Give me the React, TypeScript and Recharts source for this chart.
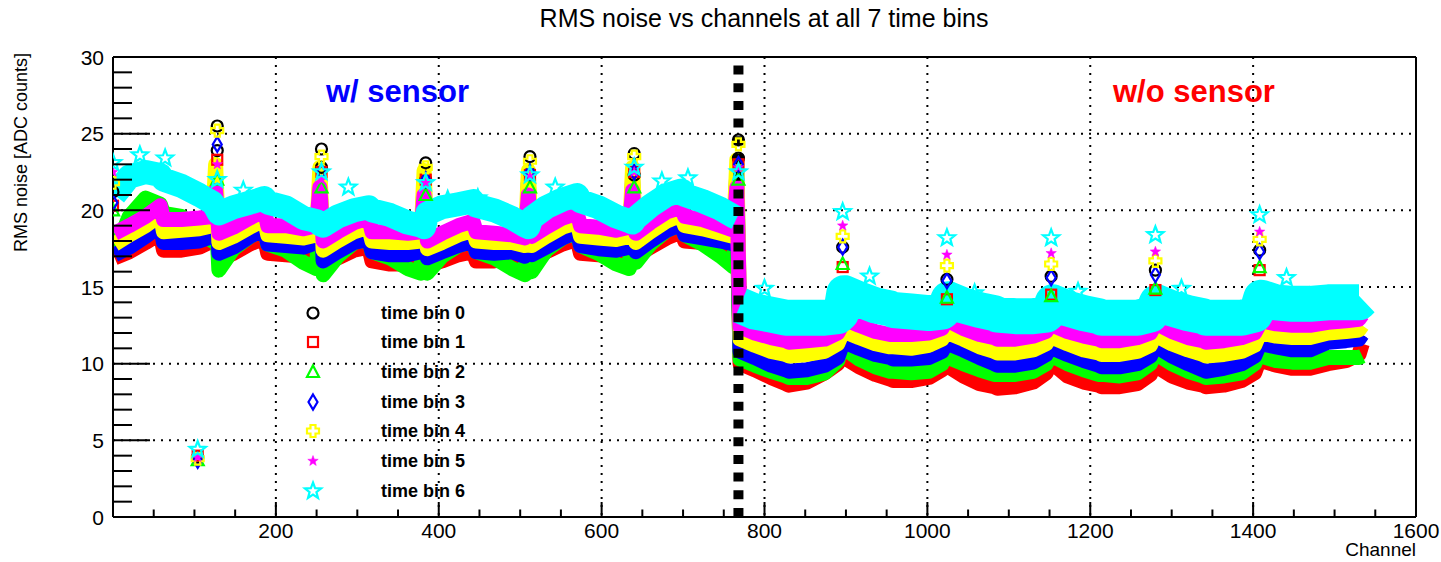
import {CartesianGrid, ComposedChart, Line, ReferenceLine, Scatter, XAxis, YAxis} from 'recharts';

const FONT = '"Liberation Sans", Arial, Helvetica, sans-serif';

const binLabels = ['time bin 0', 'time bin 1', 'time bin 2', 'time bin 3', 'time bin 4', 'time bin 5', 'time bin 6'];
const binColors = ['#000000', '#ff0000', '#00ff00', '#0000ff', '#ffff00', '#ff00ff', '#00ffff'];
const binMarkers = ['circle', 'square', 'triangle', 'diamond', 'cross', 'star', 'openStar'];

// 12 chips of 128 channels, sampled at a few channels per chip
const chipStarts = [0, 128, 256, 384, 512, 640, 768, 896, 1024, 1152, 1280, 1408];
const sampleOffsets = [2, 20, 40, 58, 62, 84, 106, 122, 126];

const bin0 = [
    17.1, 17.6, 18.3, 19.0, 17.9, 17.9, 18.0, 18.3, 22.5,
    17.2, 17.6, 18.3, 18.8, 17.8, 17.7, 17.6, 17.9, 22.5,
    16.7, 17.3, 17.9, 18.1, 17.3, 17.1, 17.1, 17.3, 22.0,
    16.9, 17.3, 17.7, 18.0, 17.3, 17.2, 17.3, 17.0, 22.0,
    17.1, 17.6, 18.2, 18.6, 17.7, 17.5, 17.4, 17.6, 22.3,
    17.3, 18.0, 18.7, 19.1, 18.4, 18.2, 18.0, 17.8, 23.0,
    10.8, 10.4, 9.9, 9.6, 9.5, 9.6, 9.9, 10.4, 11.0,
    11.4, 11.0, 10.6, 10.4, 10.3, 10.3, 10.4, 10.8, 11.2,
    11.3, 10.9, 10.4, 10.0, 9.9, 9.9, 10.1, 10.6, 11.1,
    11.0, 10.6, 10.2, 9.9, 9.8, 9.8, 10.0, 10.5, 11.0,
    11.1, 10.5, 10.0, 9.6, 9.5, 9.7, 10.0, 10.5, 11.0,
    11.3, 11.1, 10.9, 10.9, 10.9, 11.4, 11.5, 11.6, 11.9,
];
const bin1 = [
    16.9, 17.3, 17.9, 18.5, 17.4, 17.4, 17.6, 18.0, 21.8,
    16.8, 17.2, 17.8, 18.2, 17.2, 17.1, 17.0, 17.3, 21.5,
    16.4, 16.9, 17.4, 17.6, 16.7, 16.5, 16.5, 16.8, 21.3,
    16.4, 16.7, 17.1, 17.3, 16.7, 16.7, 16.9, 16.7, 21.5,
    16.8, 17.3, 17.8, 18.1, 17.2, 17.1, 17.0, 17.2, 21.5,
    17.0, 17.6, 18.2, 18.6, 18.0, 17.9, 17.8, 17.5, 21.8,
    10.0, 9.6, 9.1, 8.7, 8.6, 8.8, 9.4, 10.0, 10.5,
    10.4, 9.8, 9.3, 9.0, 8.9, 8.9, 9.1, 9.6, 10.2,
    9.8, 9.2, 8.7, 8.5, 8.4, 8.5, 8.8, 9.4, 10.0,
    10.0, 9.2, 8.8, 8.6, 8.5, 8.5, 8.7, 9.3, 10.0,
    9.8, 9.2, 8.8, 8.6, 8.5, 8.6, 8.9, 9.4, 10.0,
    10.2, 9.9, 9.7, 9.7, 9.7, 10.0, 10.2, 10.6, 11.3,
];
const bin2 = [
    17.3, 19.6, 20.8, 20.4, 19.8, 19.6, 18.8, 18.0, 20.5,
    16.1, 17.5, 18.3, 18.8, 17.8, 17.4, 16.6, 16.2, 20.5,
    15.8, 17.0, 17.9, 18.1, 17.3, 16.9, 16.2, 15.9, 20.5,
    15.9, 17.0, 17.7, 18.0, 17.3, 16.9, 16.2, 15.8, 20.5,
    16.0, 17.4, 18.2, 18.6, 17.7, 17.2, 16.5, 16.2, 20.5,
    16.6, 17.8, 18.7, 19.1, 18.4, 17.8, 17.0, 16.3, 20.5,
    10.3, 9.9, 9.5, 9.2, 9.1, 9.1, 9.4, 10.2, 11.0,
    11.0, 10.3, 9.8, 9.5, 9.5, 9.4, 9.5, 10.0, 10.6,
    10.4, 10.0, 9.6, 9.3, 9.3, 9.3, 9.5, 10.0, 10.6,
    10.5, 10.0, 9.6, 9.3, 9.3, 9.2, 9.4, 10.0, 10.7,
    10.6, 10.0, 9.5, 9.2, 9.1, 9.2, 9.4, 10.0, 10.6,
    10.5, 10.2, 10.1, 10.1, 10.1, 10.4, 10.4, 10.4, 10.5,
];
const bin3 = [
    17.1, 17.6, 18.3, 19.0, 17.9, 17.9, 18.0, 18.3, 21.8,
    17.2, 17.6, 18.3, 18.8, 17.8, 17.7, 17.6, 17.9, 22.0,
    16.7, 17.3, 17.9, 18.1, 17.3, 17.1, 17.1, 17.3, 21.8,
    16.9, 17.3, 17.7, 18.0, 17.3, 17.2, 17.3, 17.0, 21.8,
    17.1, 17.6, 18.2, 18.6, 17.7, 17.5, 17.4, 17.6, 22.0,
    17.3, 18.0, 18.7, 19.1, 18.4, 18.2, 18.0, 17.8, 22.5,
    10.8, 10.4, 9.9, 9.6, 9.5, 9.6, 9.9, 10.4, 11.0,
    11.4, 11.0, 10.6, 10.4, 10.3, 10.3, 10.4, 10.8, 11.2,
    11.3, 10.9, 10.4, 10.0, 9.9, 9.9, 10.1, 10.6, 11.1,
    11.0, 10.6, 10.2, 9.9, 9.8, 9.8, 10.0, 10.5, 11.0,
    11.1, 10.5, 10.0, 9.6, 9.5, 9.7, 10.0, 10.5, 11.0,
    11.3, 11.1, 10.9, 10.9, 10.9, 11.4, 11.5, 11.6, 11.9,
];
const bin4 = [
    17.8, 18.4, 19.0, 19.7, 18.6, 18.7, 18.8, 19.0, 23.0,
    17.9, 18.3, 18.9, 19.4, 18.4, 18.3, 18.2, 18.4, 22.8,
    17.4, 18.0, 18.6, 18.9, 18.0, 17.9, 17.9, 18.0, 22.6,
    17.5, 17.9, 18.4, 18.7, 18.0, 17.9, 17.9, 17.7, 22.6,
    17.7, 18.3, 18.9, 19.2, 18.3, 18.2, 18.1, 18.3, 22.8,
    17.9, 18.6, 19.3, 19.7, 19.0, 18.8, 18.5, 18.3, 23.3,
    11.6, 11.2, 10.8, 10.6, 10.5, 10.6, 10.8, 11.3, 11.8,
    12.1, 11.7, 11.3, 11.1, 11.1, 11.0, 11.2, 11.6, 12.0,
    12.0, 11.6, 11.1, 10.8, 10.7, 10.7, 10.9, 11.3, 11.8,
    11.7, 11.3, 10.9, 10.7, 10.6, 10.6, 10.8, 11.2, 11.7,
    11.8, 11.3, 10.9, 10.6, 10.5, 10.6, 10.8, 11.2, 11.7,
    12.0, 11.8, 11.7, 11.7, 11.7, 12.0, 12.1, 12.2, 12.5,
];
const bin5 = [
    18.5, 19.0, 19.6, 20.3, 19.4, 19.4, 19.5, 19.6, 21.3,
    18.5, 18.9, 19.5, 20.0, 19.0, 19.0, 18.8, 19.0, 21.5,
    18.0, 18.6, 19.2, 19.5, 18.6, 18.6, 18.5, 18.6, 21.0,
    18.0, 18.5, 19.0, 19.3, 18.6, 18.5, 18.4, 18.2, 21.0,
    18.3, 18.9, 19.5, 19.8, 19.0, 18.9, 18.7, 18.9, 21.3,
    18.5, 19.2, 19.9, 20.2, 19.6, 19.4, 19.0, 18.7, 21.5,
    12.4, 12.0, 11.7, 11.5, 11.4, 11.5, 11.6, 12.0, 12.4,
    12.9, 12.5, 12.1, 11.9, 11.9, 11.9, 12.0, 12.3, 12.7,
    12.8, 12.3, 11.9, 11.7, 11.6, 11.6, 11.8, 12.1, 12.5,
    12.5, 12.1, 11.8, 11.6, 11.5, 11.5, 11.7, 12.0, 12.4,
    12.6, 12.1, 11.7, 11.5, 11.4, 11.5, 11.7, 12.0, 12.4,
    12.8, 12.6, 12.5, 12.5, 12.5, 12.7, 12.8, 12.9, 13.2,
];
const bin6 = [
    21.0, 22.2, 22.5, 22.3, 22.0, 21.6, 21.0, 20.5, 20.2,
    19.8, 20.2, 20.5, 20.8, 20.5, 20.2, 19.5, 19.3, 19.1,
    19.0, 19.6, 20.0, 20.2, 20.0, 19.7, 19.2, 19.0, 18.9,
    19.8, 20.2, 20.4, 20.6, 20.3, 20.0, 19.5, 19.0, 18.9,
    19.5, 20.2, 20.7, 21.0, 20.6, 20.2, 19.6, 19.3, 19.2,
    19.5, 20.3, 21.0, 21.3, 21.0, 20.6, 20.1, 19.6, 19.5,
    13.8, 13.4, 13.2, 13.0, 13.0, 13.0, 13.0, 13.1, 13.3,
    14.6, 14.2, 13.8, 13.6, 13.5, 13.4, 13.3, 13.4, 13.6,
    14.2, 13.8, 13.5, 13.3, 13.2, 13.1, 13.1, 13.2, 13.4,
    14.0, 13.6, 13.3, 13.1, 13.0, 13.0, 13.0, 13.2, 13.5,
    14.0, 13.6, 13.3, 13.1, 13.0, 13.0, 13.0, 13.2, 13.6,
    14.3, 14.0, 13.9, 13.9, 13.9, 14.0, 14.0, 14.0, 14.2,
];

// first channel of each chip sticks out
const spikeChannels = [0, 128, 256, 384, 512, 640, 768, 896, 1024, 1152, 1280, 1408];
const spike0 = [21.2, 25.5, 24.0, 23.1, 23.5, 23.7, 24.6, 17.6, 15.5, 15.7, 16.1, 17.4];
const spike1 = [20.3, 23.3, 22.5, 22.0, 22.3, 22.5, 23.0, 16.3, 14.2, 14.5, 14.8, 16.1];
const spike2 = [20.0, 22.0, 21.5, 21.0, 21.5, 21.5, 22.0, 16.5, 14.3, 14.4, 14.9, 16.3];
const spike3 = [20.5, 24.3, 22.5, 22.0, 22.5, 22.5, 23.0, 17.6, 15.4, 15.6, 15.8, 17.3];
const spike4 = [21.8, 25.2, 23.5, 22.8, 23.2, 23.5, 24.3, 18.3, 16.4, 16.5, 16.7, 18.1];
const spike5 = [22.5, 23.0, 22.0, 21.8, 22.2, 22.5, 22.8, 19.0, 17.1, 17.2, 17.3, 18.6];
const spike6 = [23.1, 22.0, 22.5, 21.8, 22.3, 22.8, 22.5, 19.9, 18.2, 18.2, 18.4, 19.7];

const secondCircleCh = [128, 256, 384, 512, 640, 768];
const secondCircleVal = [23.9, 22.8, 22.0, 22.4, 22.3, 23.4];

const deadChannel = 104;
const deadValues = [3.9, 4.0, 3.7, 3.7, 3.8, 3.9, 4.4];

const strayCh = [33, 64, 160, 289, 411, 448, 543, 674, 706, 800, 929, 1058, 1185, 1312, 1441];
const strayVal = [23.6, 23.4, 21.3, 21.5, 20.7, 20.8, 21.5, 21.9, 22.1, 14.9, 15.7, 14.6, 14.7, 14.9, 15.6];

const yTicks = [0, 1, 2, 3, 4, 5, 6, 7, 8, 9, 10, 11, 12, 13, 14, 15, 16, 17, 18, 19, 20, 21, 22, 23, 24, 25, 26, 27, 28, 29, 30];
const xTicks = [0, 50, 100, 150, 200, 250, 300, 350, 400, 450, 500, 550, 600, 650, 700, 750, 800, 850, 900, 950, 1000, 1050, 1100, 1150, 1200, 1250, 1300, 1350, 1400, 1450, 1500, 1550, 1600];
const gridY = [5, 10, 15, 20, 25];
const gridX = [200, 400, 600, 800, 1000, 1200, 1400];

const series = [bin0, bin1, bin2, bin3, bin4, bin5, bin6];
const spikes = [spike0, spike1, spike2, spike3, spike4, spike5, spike6];

const rows: any[] = [];
chipStarts.forEach((start, c) => {
    sampleOffsets.forEach((off, k) => {
        const i = c * sampleOffsets.length + k;
        const ch = start + off;
        rows.push({
            ch,
            b0: bin0[i], b1: bin1[i], b2: bin2[i], b3: bin3[i], b4: bin4[i], b5: bin5[i],
            b6L: ch < 768 ? bin6[i] : null,
            b6R: ch >= 768 ? bin6[i] : null,
        });
    });
});

const markerData = series.map((_, b) => {
    const pts = spikeChannels.map((ch, j) => ({ch, v: spikes[b][j]}));
    pts.push({ch: deadChannel, v: deadValues[b]});
    if (b === 0) secondCircleCh.forEach((ch, j) => pts.push({ch, v: secondCircleVal[j]}));
    if (b === 6) strayCh.forEach((ch, j) => pts.push({ch, v: strayVal[j]}));
    return pts;
});

const starPts = (cx: number, cy: number, ro: number, ri: number) => {
    const pts = [];
    for (let i = 0; i < 10; i++) {
        const r = i % 2 === 0 ? ro : ri;
        const a = -Math.PI / 2 + i * Math.PI / 5;
        pts.push(`${cx + r * Math.cos(a)},${cy + r * Math.sin(a)}`);
    }
    return pts.join(' ');
};

const Marker = ({kind, cx, cy, color}: { kind: string, cx: number, cy: number, color: string }) => {
    if (cx == null || cy == null) return null;
    switch (kind) {
        case 'circle':
            return <circle cx={cx} cy={cy} r={5.5} fill="none" stroke={color} strokeWidth={2.2}/>;
        case 'square':
            return <rect x={cx - 5} y={cy - 5} width={10} height={10} fill="none" stroke={color} strokeWidth={2.2}/>;
        case 'triangle':
            return <polygon points={`${cx},${cy - 6.5} ${cx + 6},${cy + 5} ${cx - 6},${cy + 5}`} fill="none" stroke={color} strokeWidth={2.2}/>;
        case 'diamond':
            return <polygon points={`${cx},${cy - 7.5} ${cx + 4.5},${cy} ${cx},${cy + 7.5} ${cx - 4.5},${cy}`} fill="none" stroke={color} strokeWidth={2.2}/>;
        case 'cross': {
            const a = 2.5, s = 6;
            const p = [[-a, -s], [a, -s], [a, -a], [s, -a], [s, a], [a, a], [a, s], [-a, s], [-a, a], [-s, a], [-s, -a], [-a, -a]];
            return <polygon points={p.map(q => `${cx + q[0]},${cy + q[1]}`).join(' ')} fill="none" stroke={color} strokeWidth={2.2}/>;
        }
        case 'star':
            return <polygon points={starPts(cx, cy, 5.5, 2.3)} fill={color} stroke={color} strokeWidth={0.5}/>;
        default:
            return <polygon points={starPts(cx, cy, 8.5, 3.6)} fill="none" stroke={color} strokeWidth={2.2}/>;
    }
};

const YTick = (p: any) => {
    const v = p.payload.value;
    const major = v % 5 === 0;
    return (
        <g>
            <line x1={p.x} x2={p.x + (major ? 37 : 19)} y1={p.y} y2={p.y} stroke="#000" strokeWidth={2}/>
            {major && <text x={104} y={p.y} textAnchor="end" dominantBaseline="central" fontSize={21}
                            fontFamily={FONT} fill="#000">{v}</text>}
        </g>
    );
};

const XTick = (p: any) => {
    const v = p.payload.value;
    const major = v % 200 === 0;
    return (
        <g>
            <line x1={p.x} x2={p.x} y1={p.y} y2={p.y - (major ? 15 : 7.5)} stroke="#000" strokeWidth={2}/>
            {major && v !== 0 && <text x={p.x} y={p.y + 21} textAnchor="middle" fontSize={21}
                                       fontFamily={FONT} fill="#000">{v}</text>}
        </g>
    );
};

const legendRows = [313, 342, 372, 402, 431, 461, 491];

export default function App() {
    return (
        <div style={{position: 'absolute', left: 0, top: 0, width: 1441, height: 562, background: '#fff'}}>
            <ComposedChart width={1441} height={562} data={rows} margin={{top: 57, right: 25, bottom: 5, left: 53}}>
                <CartesianGrid horizontalValues={gridY} verticalValues={gridX} stroke="#000" strokeWidth={2}
                               strokeDasharray="2 6"/>
                <XAxis dataKey="ch" type="number" domain={[0, 1600]} ticks={xTicks} interval={0} height={40}
                       tickSize={0} tickMargin={0} tickLine={false} tick={<XTick/>} allowDataOverflow
                       axisLine={{stroke: '#000', strokeWidth: 2}}/>
                <YAxis type="number" domain={[0, 30]} ticks={yTicks} interval={0} width={60}
                       tickSize={0} tickMargin={0} tickLine={false} tick={<YTick/>} allowDataOverflow
                       axisLine={{stroke: '#000', strokeWidth: 2}}/>
                {[0, 1, 2, 3, 4, 5].map(b => (
                    <Line key={b} dataKey={'b' + b} type="linear" stroke={binColors[b]} strokeWidth={b === 0 ? 12 : 15}
                          strokeLinejoin="round" dot={false} activeDot={false} isAnimationActive={false}/>
                ))}
                <Line dataKey="b6L" type="linear" stroke={binColors[6]} strokeWidth={24} strokeLinejoin="round"
                      dot={false} activeDot={false} isAnimationActive={false}/>
                <Line dataKey="b6R" type="linear" stroke={binColors[6]} strokeWidth={36} strokeLinejoin="round"
                      dot={false} activeDot={false} isAnimationActive={false}/>
                {markerData.map((pts, b) => (
                    <Scatter key={'m' + b} data={pts} dataKey="v" isAnimationActive={false}
                             shape={(p: any) => <Marker kind={binMarkers[b]} cx={p.cx} cy={p.cy} color={binColors[b]}/>}/>
                ))}
                <ReferenceLine y={30} stroke="#000" strokeWidth={2}/>
                <ReferenceLine x={1600} stroke="#000" strokeWidth={2}/>
                <ReferenceLine x={768} stroke="#000" strokeWidth={10} strokeDasharray="9 8.7"/>
            </ComposedChart>
            <svg width={1441} height={562} style={{position: 'absolute', left: 0, top: 0, pointerEvents: 'none'}}>
                <text x={764} y={27} textAnchor="middle" fontSize={25} fontFamily={FONT} fill="#000">
                    RMS noise vs channels at all 7 time bins
                </text>
                <text x={21} y={53} transform="rotate(-90 21 53)" textAnchor="end" dominantBaseline="central"
                      fontSize={18} fontFamily={FONT} fill="#000">RMS noise [ADC counts]</text>
                <text x={1416} y={556} textAnchor="end" fontSize={19} fontFamily={FONT} fill="#000">Channel</text>
                <text x={326} y={102} fontSize={31} fontWeight="bold" fontFamily={FONT} fill="#0000ff">w/ sensor</text>
                <text x={1113} y={102} fontSize={31} fontWeight="bold" fontFamily={FONT} fill="#ff0000">w/o sensor</text>
                {binLabels.map((label, b) => (
                    <g key={label}>
                        <Marker kind={binMarkers[b]} cx={313} cy={legendRows[b]} color={binColors[b]}/>
                        <text x={381} y={legendRows[b]} dominantBaseline="central" fontSize={18} fontWeight="bold"
                              fontFamily={FONT} fill="#000">{label}</text>
                    </g>
                ))}
            </svg>
        </div>
    );
}
